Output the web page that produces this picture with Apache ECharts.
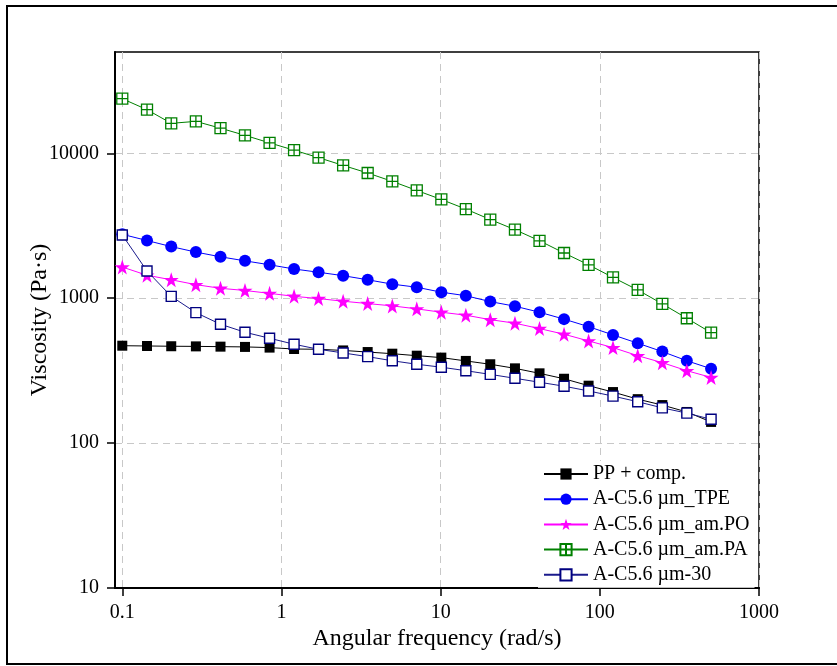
<!DOCTYPE html>
<html>
<head>
<meta charset="utf-8">
<script src="https://cdn.jsdelivr.net/npm/echarts@6/dist/echarts.min.js"></script>
<style>
  html, body { margin: 0; padding: 0; background: #fff; }
  #chart { width: 837px; height: 666px; }
</style>
</head>
<body>
<div id="chart"></div>
<script>
// Angular frequency sweep (rad/s)
const freq = [0.1, 0.143, 0.203, 0.29, 0.414, 0.59, 0.842, 1.2, 1.71, 2.44, 3.48, 4.97, 7.08,
              10.1, 14.4, 20.5, 29.3, 41.8, 59.6, 85, 121, 173, 247, 352, 500];

// Complex viscosity (Pa·s) per formulation
const ppComp = [470, 468, 466, 465, 463, 461, 456, 446, 444, 436, 425, 414, 401,
                389, 369, 350, 328, 303, 278, 249, 225, 201, 183, 164, 140];
const tpe    = [2760, 2500, 2270, 2080, 1930, 1810, 1700, 1590, 1510, 1430, 1340, 1250, 1190,
                1100, 1040, 947, 880, 800, 717, 636, 558, 489, 428, 370, 326];
const amPO   = [1640, 1440, 1340, 1240, 1170, 1130, 1080, 1030, 994, 953, 918, 885, 844,
                800, 763, 711, 672, 617, 564, 507, 456, 401, 359, 316, 284];
const amPA   = [23800, 20000, 16100, 16600, 14900, 13300, 11800, 10500, 9330, 8250, 7310, 6400, 5540,
                4800, 4120, 3490, 2970, 2490, 2050, 1700, 1390, 1140, 913, 727, 578];
const um30   = [2730, 1540, 1030, 795, 661, 582, 529, 481, 444, 419, 395, 370, 350,
                334, 316, 298, 280, 263, 247, 229, 211, 193, 175, 161, 146];

const seriesNames = ['PP + comp.', 'A-C5.6 µm_TPE', 'A-C5.6 µm_am.PO', 'A-C5.6 µm_am.PA', 'A-C5.6 µm-30'];
const xTicks = [0.1, 1, 10, 100, 1000];
const yTicks = [10, 100, 1000, 10000];

const FONT = '"Liberation Serif", "Times New Roman", serif';
const STAR = 'path://M50,0 L61.8,35.1 L98.1,35.1 L68.8,56.7 L79.4,91 L50,70 L20.6,91 L31.2,56.7 L1.9,35.1 L38.2,35.1 Z';
const BOX_CROSS = 'path://M0,0 H20 V20 H0 Z M10,0 V20 M0,10 H20';

function pairs(ys) { return freq.map((x, i) => [x, ys[i]]); }
function fmt(v) { return String(Number(Number(v).toPrecision(6))); }

function lineSeries(name, ys, color, symbol, size, itemStyle) {
  return {
    name: name,
    type: 'line',
    data: pairs(ys),
    symbol: symbol,
    symbolSize: size,
    showAllSymbol: true,
    lineStyle: { color: color, width: 1 },
    itemStyle: itemStyle,
    emphasis: { disabled: true },
    animation: false
  };
}

const chart = echarts.init(document.getElementById('chart'), null, { renderer: 'canvas' });

chart.setOption({
  backgroundColor: '#fff',
  animation: false,
  textStyle: { fontFamily: FONT, color: '#000' },
  graphic: [{
    type: 'polyline',
    shape: { points: [[900, 6], [7, 6], [7, 664], [900, 664]] },
    style: { fill: 'none', stroke: '#000', lineWidth: 2 },
    silent: true
  }],
  grid: {
    left: 115, right: 78, top: 52, bottom: 78,
    show: true, borderColor: '#000', borderWidth: 1.5, backgroundColor: 'transparent'
  },
  legend: {
    orient: 'vertical',
    left: 538, top: 461,
    padding: [3, 5, 3, 5],
    backgroundColor: '#fff',
    itemWidth: 44, itemHeight: 14, itemGap: 5.2,
    textStyle: { fontFamily: FONT, fontSize: 20, color: '#000' },
    data: seriesNames
  },
  xAxis: {
    type: 'log', logBase: 10, min: 0.09, max: 1000,
    name: 'Angular frequency (rad/s)', nameLocation: 'middle', nameGap: 39,
    nameMoveOverlap: false,
    nameTextStyle: { fontFamily: FONT, fontSize: 24, color: '#000' },
    axisLine: { lineStyle: { color: '#000', width: 2 } },
    axisTick: { show: true, inside: false, length: 8, lineStyle: { color: '#000', width: 1.5 }, customValues: xTicks },
    axisLabel: { fontFamily: FONT, fontSize: 20, color: '#000', margin: 15, customValues: xTicks, formatter: fmt },
    splitLine: { show: true, lineStyle: { color: '#c8c8c8', width: 1, type: [7, 5] } },
    minorTick: { show: false }
  },
  yAxis: {
    type: 'log', logBase: 10, min: 10, max: 50000,
    name: 'Viscosity (Pa·s)', nameLocation: 'middle', nameGap: 63, nameRotate: 90,
    nameMoveOverlap: false,
    nameTextStyle: { fontFamily: FONT, fontSize: 24, color: '#000' },
    axisLine: { lineStyle: { color: '#000', width: 2 } },
    axisTick: { show: true, inside: false, length: 8, lineStyle: { color: '#000', width: 1.5 }, customValues: yTicks },
    axisLabel: { fontFamily: FONT, fontSize: 20, color: '#000', margin: 16, customValues: yTicks, formatter: fmt },
    splitLine: { show: true, lineStyle: { color: '#c8c8c8', width: 1, type: [7, 5] } },
    minorTick: { show: false }
  },
  series: [
    lineSeries(seriesNames[0], ppComp, '#000000', 'rect', 10, { color: '#000000' }),
    lineSeries(seriesNames[1], tpe, '#0000ff', 'circle', 12, { color: '#0000ff' }),
    lineSeries(seriesNames[2], amPO, '#ff00ff', STAR, 15, { color: '#ff00ff' }),
    lineSeries(seriesNames[3], amPA, '#008000', BOX_CROSS, 11, { color: '#ffffff', borderColor: '#008000', borderWidth: 1.3 }),
    lineSeries(seriesNames[4], um30, '#1a1a8c', 'rect', 10, { color: '#ffffff', borderColor: '#000080', borderWidth: 1.4 })
  ]
});
</script>
</body>
</html>
